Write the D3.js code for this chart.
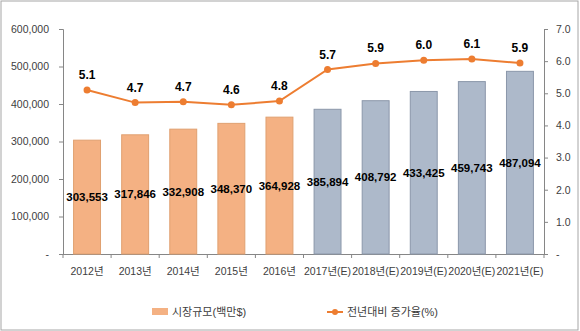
<!DOCTYPE html>
<html><head><meta charset="utf-8">
<script src="https://cdn.jsdelivr.net/npm/d3@7"></script>
<style>body{margin:0;background:#fff}svg{display:block}</style>
</head><body><svg id="c" width="580" height="331"></svg>
<script>
const categories = ["2012년","2013년","2014년","2015년","2016년","2017년(E)","2018년(E)","2019년(E)","2020년(E)","2021년(E)"];
const marketSize = [303553,317846,332908,348370,364928,385894,408792,433425,459743,487094];
const growthRate = [5.1,4.71,4.74,4.64,4.76,5.74,5.93,6.03,6.07,5.94];
const estimated = [false,false,false,false,false,true,true,true,true,true];
const leftTicks = [0,100000,200000,300000,400000,500000,600000];
const rightTicks = [0,1,2,3,4,5,6,7];
const legendLabels = ["시장규모(백만$)","전년대비 증가율(%)"];

const svg = d3.select("#c");
const font = "'Liberation Sans', 'Noto Sans CJK KR', sans-serif";
const L = 63, R = 544, T = 29, B = 254;
svg.append("rect").attr("x",1).attr("y",1).attr("width",577).attr("height",329)
  .attr("fill","#fff").attr("stroke","#a6a6a6").attr("stroke-width",1);

const x = d3.scaleBand().domain(categories).range([L,R]).paddingInner(0.44).paddingOuter(0.22);
const yL = d3.scaleLinear().domain([0,600000]).range([B,T]);
const yR = d3.scaleLinear().domain([0,7]).range([B,T]);
const fmtL = v => v===0 ? "-" : d3.format(",")(v);
const fmtR = v => v===0 ? "-" : d3.format(".1f")(v);

// axes
const axL = svg.append("g").attr("transform",`translate(${L},0)`)
  .call(d3.axisLeft(yL).tickValues(leftTicks).tickFormat(fmtL).tickSize(4).tickPadding(10));
const axR = svg.append("g").attr("transform",`translate(${R},0)`)
  .call(d3.axisRight(yR).tickValues(rightTicks).tickFormat(fmtR).tickSize(4).tickPadding(8));
[axL,axR].forEach(a=>{
  a.select(".domain").attr("stroke","#868686");
  a.selectAll(".tick line").attr("stroke","#868686");
  a.selectAll("text").attr("font-family",font).attr("font-size",10.5).attr("fill","#404040");
});
// bottom axis
const step = (R-L)/categories.length;
svg.append("line").attr("x1",L).attr("x2",R).attr("y1",B+0.5).attr("y2",B+0.5).attr("stroke","#868686");
d3.range(categories.length+1).forEach(i=>{
  svg.append("line").attr("x1",L+i*step).attr("x2",L+i*step).attr("y1",B).attr("y2",B+4).attr("stroke","#868686");
});
svg.selectAll(".xl").data(categories).enter().append("text")
  .attr("x",d=>x(d)+x.bandwidth()/2).attr("y",B+21).attr("text-anchor","middle")
  .attr("font-family",font).attr("font-size",10.5).attr("fill","#404040").text(d=>d);

// bars
svg.selectAll(".bar").data(marketSize).enter().append("rect")
  .attr("x",(d,i)=>x(categories[i])).attr("width",x.bandwidth())
  .attr("y",d=>yL(d)).attr("height",d=>B-yL(d))
  .attr("fill",(d,i)=>estimated[i]?"#adb9ca":"#f4b183")
  .attr("stroke",(d,i)=>estimated[i]?"#8b97aa":"#e0a070").attr("stroke-width",1);
svg.selectAll(".bl").data(marketSize).enter().append("text")
  .attr("x",(d,i)=>x(categories[i])+x.bandwidth()/2).attr("y",d=>(yL(d)+B)/2+4)
  .attr("text-anchor","middle").attr("font-family",font).attr("font-size",11.5).attr("font-weight","bold")
  .attr("fill","#000").text(d=>d3.format(",")(d));

// line
const cx = i => x(categories[i])+x.bandwidth()/2;
svg.append("path").datum(growthRate)
  .attr("d",d3.line().x((d,i)=>cx(i)).y(d=>yR(d)))
  .attr("fill","none").attr("stroke","#ed7d31").attr("stroke-width",2);
svg.selectAll(".pt").data(growthRate).enter().append("circle")
  .attr("cx",(d,i)=>cx(i)).attr("cy",d=>yR(d)).attr("r",3.5).attr("fill","#ed7d31");
svg.selectAll(".pl").data(growthRate).enter().append("text")
  .attr("x",(d,i)=>cx(i)).attr("y",d=>yR(d)-11)
  .attr("text-anchor","middle").attr("font-family",font).attr("font-size",12).attr("font-weight","bold")
  .attr("fill","#000").text(d=>d3.format(".1f")(d));

// legend
const ly = 312;
svg.append("rect").attr("x",152).attr("y",ly-4).attr("width",16).attr("height",7).attr("fill","#f4b183");
svg.append("text").attr("x",172).attr("y",ly+4).attr("font-family",font).attr("font-size",11).attr("fill","#404040").text(legendLabels[0]);
svg.append("line").attr("x1",327).attr("x2",343).attr("y1",ly).attr("y2",ly).attr("stroke","#ed7d31").attr("stroke-width",2);
svg.append("circle").attr("cx",335).attr("cy",ly).attr("r",3).attr("fill","#ed7d31");
svg.append("text").attr("x",347).attr("y",ly+4).attr("font-family",font).attr("font-size",11).attr("fill","#404040").text(legendLabels[1]);
</script></body></html>
